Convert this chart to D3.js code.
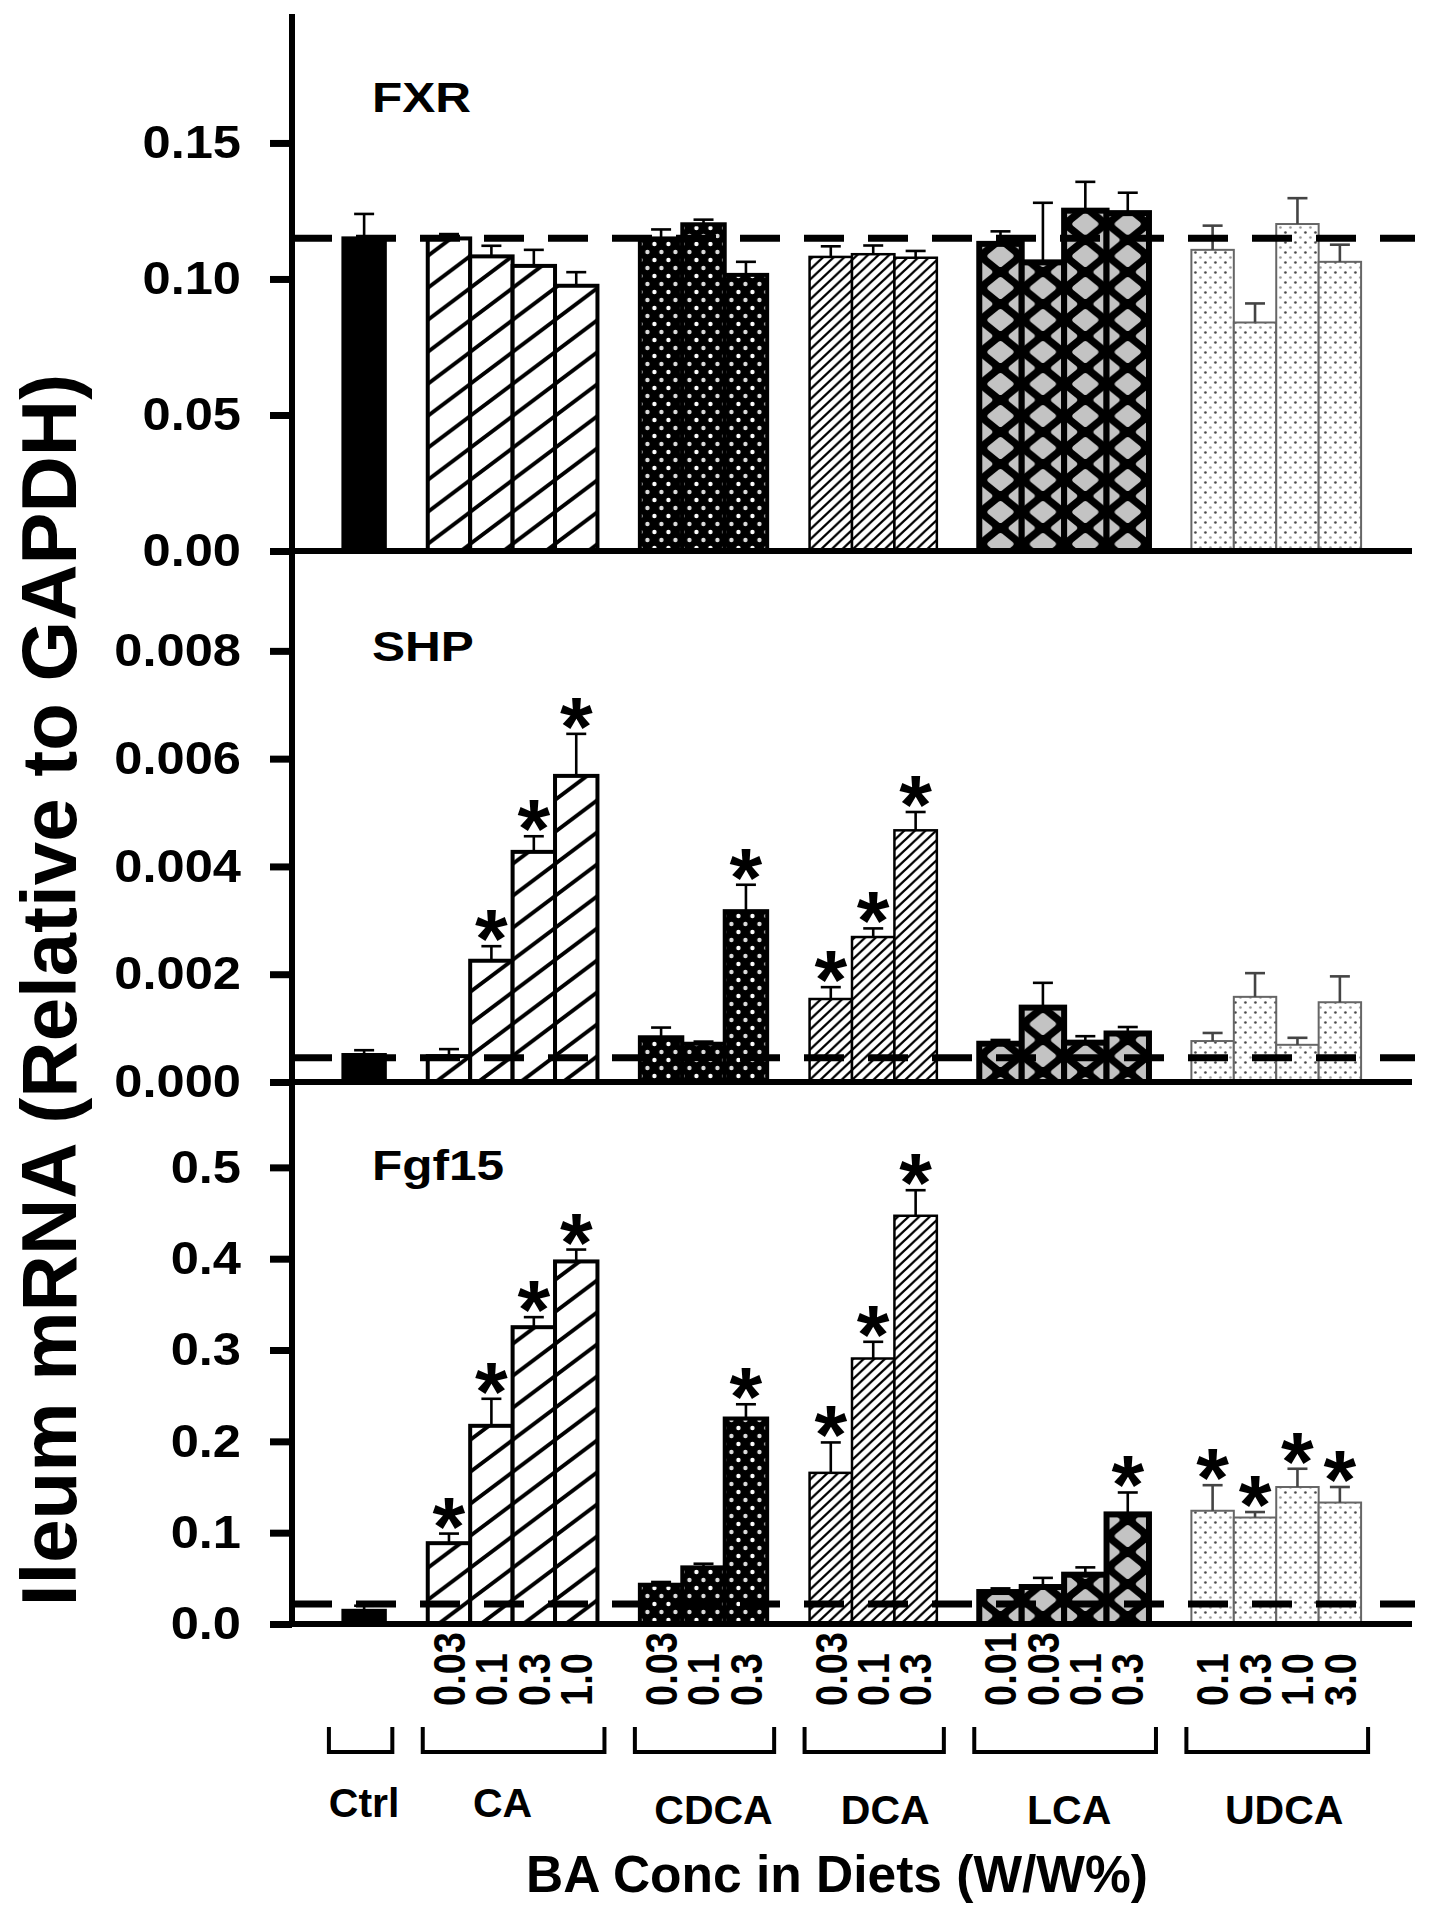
<!DOCTYPE html>
<html><head><meta charset="utf-8">
<script src="https://cdn.jsdelivr.net/npm/d3@7"></script>
<style>
html,body{margin:0;padding:0;background:#fff;}
svg{display:block;}
text{font-family:"Liberation Sans",Arial,Helvetica,sans-serif;font-weight:bold;fill:#000;}
</style></head><body>
<svg id="chart" width="1445" height="1908"></svg>
<script>
// ---------------- DATA ----------------
const groups = ["Ctrl","CA","CDCA","DCA","LCA","UDCA"];
const doseLabels = [[""],["0.03","0.1","0.3","1.0"],["0.03","0.1","0.3"],["0.03","0.1","0.3"],["0.01","0.03","0.1","0.3"],["0.1","0.3","1.0","3.0"]];
const genes = ["FXR","SHP","Fgf15"];

// bar order: Ctrl, CA x4, CDCA x3, DCA x3, LCA x4, UDCA x4
const fxrMean = [0.1151,0.1149,0.1083,0.1048,0.0975, 0.1149,0.1201,0.1015, 0.1081,0.1091,0.1078, 0.1129,0.1061,0.1251,0.1242, 0.1107,0.0840,0.1202,0.1063];
const fxrErr  = [0.0088,0.0016,0.0039,0.0059,0.0050, 0.0033,0.0017,0.0048, 0.0039,0.0032,0.0025, 0.0046,0.0219,0.0106,0.0075, 0.0089,0.0070,0.0095,0.0063];
const fxrSig  = [];

const shpMean = [0.00051,0.00048,0.00225,0.00427,0.00568, 0.00083,0.00071,0.00317, 0.00154,0.00269,0.00467, 0.00071,0.00138,0.00073,0.00090, 0.00076,0.00158,0.00069,0.00148];
const shpErr  = [0.00008,0.00013,0.00027,0.00029,0.00078, 0.00018,0.00004,0.00049, 0.00022,0.00016,0.00034, 0.00007,0.00046,0.00012,0.00012, 0.00015,0.00044,0.00013,0.00048];
const shpSig  = [2,3,4,7,8,9,10];

const fgfMean = [0.015,0.0885,0.217,0.325,0.397, 0.043,0.062,0.225, 0.1655,0.2907,0.447, 0.035,0.0405,0.054,0.120, 0.124,0.1166,0.150,0.133];
const fgfErr  = [0.005,0.0105,0.0296,0.011,0.013, 0.003,0.004,0.0156, 0.0333,0.0183,0.028, 0.004,0.010,0.008,0.024, 0.028,0.006,0.020,0.017];
const fgfSig  = [1,2,3,4,7,8,9,10,14,15,16,17,18];

const ctrlLevel = [0.115, 0.00045, 0.022];
const yMax = [0.1974, 0.00989, 0.588];
const yTicks = [[0,0.05,0.10,0.15],[0,0.002,0.004,0.006,0.008],[0,0.1,0.2,0.3,0.4,0.5]];
const tickFormats = [".2f",".3f",".1f"];
const yTitle = "Ileum mRNA (Relative to GAPDH)";
const xTitle = "BA Conc in Diets (W/W%)";

// ---------------- LAYOUT ----------------
const axisX = 292, rightX = 1412;
const panelBottom = [551, 1082, 1624];
const panelTop = [14, 549, 1087];
const titleY = [112, 661, 1180];

const means = [fxrMean, shpMean, fgfMean];
const errs = [fxrErr, shpErr, fgfErr];
const sigs = [fxrSig, shpSig, fgfSig];

const bars = [];
const slots = [];
groups.forEach((g, gi) => {
  if (gi > 0) slots.push("gap" + gi);
  doseLabels[gi].forEach((d, di) => {
    const key = g + "_" + di;
    slots.push(key);
    bars.push({key, group: g, gi, dose: d});
  });
});

const x = d3.scaleBand().domain(slots).range([axisX, rightX]).paddingInner(0).paddingOuter(1.2);
const bw = x.bandwidth();
const px0 = x(slots[0]);

const svg = d3.select("#chart");
const defs = svg.append("defs");

function hatch(id, w, h, sw) {
  const p = defs.append("pattern").attr("id", id).attr("patternUnits", "userSpaceOnUse")
    .attr("width", w).attr("height", h).attr("x", px0).attr("y", 0);
  p.append("rect").attr("width", w).attr("height", h).attr("fill", "#fff");
  let d = "";
  for (let k = -1; k <= 1; k++) d += `M${(k-1)*w},${2*h}L${(k+2)*w},${-h}`;
  p.append("path").attr("d", d).attr("stroke", "#000").attr("stroke-width", sw).attr("fill", "none");
}
hatch("pCA", bw, 32, 3.8);
hatch("pDCA", bw/4, 10, 2.3);

(function(){
  const p = defs.append("pattern").attr("id","pCDCA").attr("patternUnits","userSpaceOnUse")
    .attr("width",14).attr("height",16).attr("x",px0).attr("y",0);
  p.append("rect").attr("width",14).attr("height",16).attr("fill","#000");
  p.append("circle").attr("cx",3.5).attr("cy",4).attr("r",2.2).attr("fill","#fff");
  p.append("circle").attr("cx",10.5).attr("cy",12).attr("r",2.2).attr("fill","#ddd");
})();
(function(){
  const w = bw, h = 32, a = 10.5, b = 8.5;
  const p = defs.append("pattern").attr("id","pLCA").attr("patternUnits","userSpaceOnUse")
    .attr("width",w).attr("height",h).attr("x",px0).attr("y",0);
  p.append("rect").attr("width",w).attr("height",h).attr("fill","#000");
  [[w/2,0],[w/2,h],[0,h/2],[w,h/2]].forEach(([cx,cy]) => {
    p.append("path").attr("d",`M${cx-a},${cy}L${cx},${cy-b}L${cx+a},${cy}L${cx},${cy+b}Z`)
      .attr("fill","#c3c3c3").attr("stroke","#c3c3c3").attr("stroke-width",5).attr("stroke-linejoin","round");
  });
})();
(function(){
  const p = defs.append("pattern").attr("id","pUDCA").attr("patternUnits","userSpaceOnUse")
    .attr("width",10).attr("height",10).attr("x",px0).attr("y",0);
  p.append("rect").attr("width",10).attr("height",10).attr("fill","#fff");
  p.append("circle").attr("cx",2.5).attr("cy",2.5).attr("r",1.3).attr("fill","#444");
  p.append("circle").attr("cx",7.5).attr("cy",7.5).attr("r",1.3).attr("fill","#999");
})();

const groupStyle = {
  Ctrl: {fill: "#000", stroke: "#000", sw: 3, err: "#000"},
  CA:   {fill: "url(#pCA)", stroke: "#000", sw: 4, err: "#000"},
  CDCA: {fill: "url(#pCDCA)", stroke: "#000", sw: 4, err: "#000"},
  DCA:  {fill: "url(#pDCA)", stroke: "#000", sw: 2.5, err: "#000"},
  LCA:  {fill: "url(#pLCA)", stroke: "#000", sw: 6, err: "#000"},
  UDCA: {fill: "url(#pUDCA)", stroke: "#666", sw: 2, err: "#444"}
};

// ---------------- PANELS ----------------
genes.forEach((gene, p) => {
  const y = d3.scaleLinear().domain([0, yMax[p]]).range([panelBottom[p], panelTop[p]]);
  const g = svg.append("g");
  const data = bars.map((b, i) => ({...b, i, v: means[p][i], e: errs[p][i], sig: sigs[p].includes(i)}));

  g.selectAll("rect.bar").data(data).join("rect").attr("class","bar")
    .attr("x", d => x(d.key)).attr("width", bw)
    .attr("y", d => y(d.v)).attr("height", d => y(0) - y(d.v))
    .attr("fill", d => groupStyle[d.group].fill)
    .attr("stroke", d => groupStyle[d.group].stroke)
    .attr("stroke-width", d => groupStyle[d.group].sw);

  const eb = g.selectAll("g.err").data(data).join("g").attr("class","err")
    .attr("stroke", d => groupStyle[d.group].err).attr("stroke-width", 2.6);
  eb.append("line").attr("x1", d => x(d.key) + bw/2).attr("x2", d => x(d.key) + bw/2)
    .attr("y1", d => y(d.v)).attr("y2", d => y(d.v + d.e));
  eb.append("line").attr("x1", d => x(d.key) + bw/2 - 10).attr("x2", d => x(d.key) + bw/2 + 10)
    .attr("y1", d => y(d.v + d.e)).attr("y2", d => y(d.v + d.e));

  g.append("line").attr("x1", axisX).attr("x2", rightX + 3)
    .attr("y1", y(ctrlLevel[p])).attr("y2", y(ctrlLevel[p]))
    .attr("stroke", "#000").attr("stroke-width", 7).attr("stroke-dasharray", "40,24");

  g.selectAll("text.star").data(data.filter(d => d.sig)).join("text").attr("class","star")
    .attr("x", d => x(d.key) + bw/2).attr("y", d => y(d.v + d.e) + 22)
    .attr("text-anchor","middle").attr("font-size", 84).text("*");

  g.append("line").attr("x1", axisX).attr("x2", rightX).attr("y1", y(0)).attr("y2", y(0))
    .attr("stroke","#000").attr("stroke-width",6);

  const ax = g.append("g").attr("transform", `translate(${axisX},0)`)
    .call(d3.axisLeft(y).tickValues(yTicks[p]).tickFormat(d3.format(tickFormats[p])).tickSize(22).tickPadding(24.4));
  ax.select(".domain").remove();
  ax.selectAll(".tick line").attr("stroke","#000").attr("stroke-width",7);
  ax.selectAll(".tick text").attr("font-size",46).attr("font-family",null).attr("fill","#000")
    .attr("transform","scale(1.1,1)");

  g.append("text").attr("transform", `translate(372,${titleY[p]}) scale(1.18,1)`)
    .attr("font-size", 42).text(gene);
});

svg.append("line").attr("x1", axisX).attr("x2", axisX).attr("y1", panelTop[0]).attr("y2", panelBottom[2] + 3)
  .attr("stroke","#000").attr("stroke-width",6);

// ---------------- X LABELS ----------------
const doseBaseY = 1706;
svg.selectAll("text.dose").data(bars.filter(b => b.dose !== "")).join("text").attr("class","dose")
  .attr("transform", d => `translate(${x(d.key) + bw/2},${doseBaseY}) rotate(-90) scale(1,1.15)`)
  .attr("dy","0.36em").attr("font-size",38).text(d => d.dose);

const labelNudge = [0, -10, 10, 12, 5, 8];
const labelBase = [1817, 1817, 1824, 1824, 1824, 1824];
groups.forEach((gname, gi) => {
  const gb = bars.filter(b => b.gi === gi);
  const x0 = x(gb[0].key), x1 = x(gb[gb.length-1].key) + bw;
  const bx0 = x0 - (gi === 0 ? 14 : 5), bx1 = x1 + 7;
  svg.append("path").attr("d", `M${bx0},1727V1752H${bx1}V1727`)
    .attr("fill","none").attr("stroke","#000").attr("stroke-width",4);
  svg.append("text").attr("x", (x0 + x1)/2 + labelNudge[gi]).attr("y", labelBase[gi])
    .attr("text-anchor","middle").attr("font-size",41).text(gname);
});

svg.append("text").attr("x", 837).attr("y", 1892).attr("text-anchor","middle")
  .attr("font-size", 51.5).text(xTitle);

svg.append("text").attr("transform", "translate(76,990) rotate(-90)").attr("text-anchor","middle")
  .attr("font-size", 78).text(yTitle);
</script>
</body></html>
